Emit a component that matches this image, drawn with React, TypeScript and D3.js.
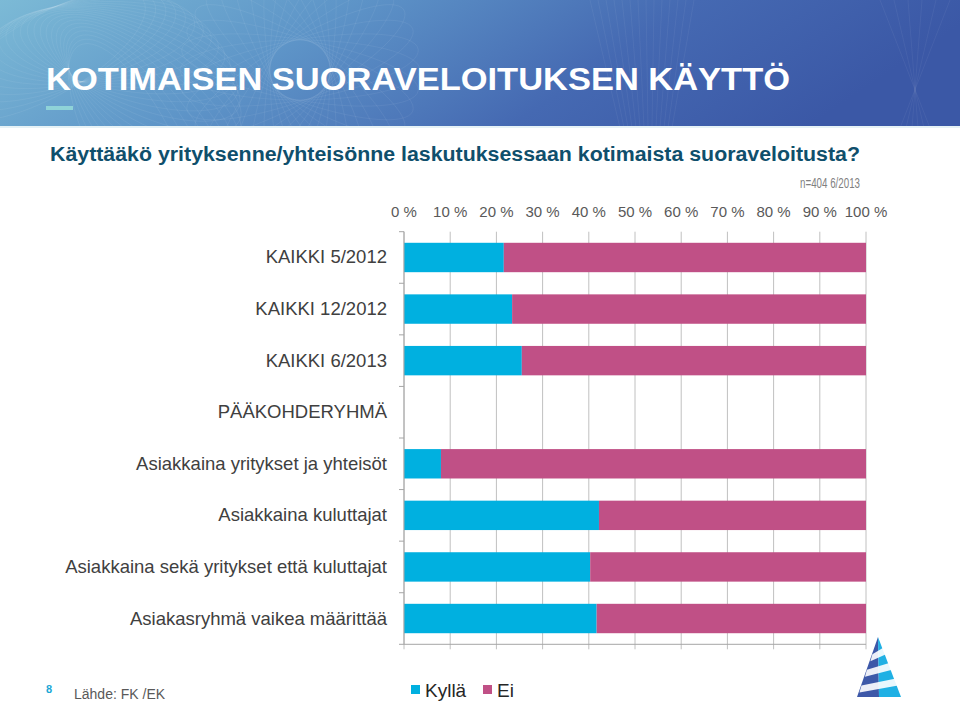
import React from "react";
import * as d3 from "d3";

const categories = [
  "KAIKKI 5/2012",
  "KAIKKI 12/2012",
  "KAIKKI 6/2013",
  "PÄÄKOHDERYHMÄ",
  "Asiakkaina yritykset ja yhteisöt",
  "Asiakkaina kuluttajat",
  "Asiakkaina sekä yritykset että kuluttajat",
  "Asiakasryhmä vaikea määrittää",
];
const kylla: (number | null)[] = [21.6, 23.4, 25.5, null, 8.0, 42.2, 40.3, 41.7];
const ei: (number | null)[] = [78.4, 76.6, 74.5, null, 92.0, 57.8, 59.7, 58.3];
const seriesNames = ["Kyllä", "Ei"];
const seriesColors = ["#00b0e0", "#c05086"];
const xTicks = [0, 10, 20, 30, 40, 50, 60, 70, 80, 90, 100];

const W = 960;
const H = 704;
const FONT = "Liberation Sans, Arial, Helvetica, sans-serif";

export default function App() {
  const x = d3.scaleLinear().domain([0, 100]).range([404, 866]);
  const y = d3
    .scaleBand<string>()
    .domain(categories)
    .range([231.7, 644.3])
    .paddingInner(0.43)
    .paddingOuter(0.215);
  const y0 = 231.7;
  const y1 = 644.3;
  const step = y.step();

  const rows = categories.map((c, i) => ({ c, a: kylla[i], b: ei[i] }));

  const apex: [number, number] = [878, 637];
  const bl: [number, number] = [857, 697];
  const br: [number, number] = [901, 697];
  const mid: [number, number] = [879, 697];

  return (
    <svg
      width={W}
      height={H}
      viewBox={`0 0 ${W} ${H}`}
      style={{ position: "absolute", left: 0, top: 0, background: "#fff" }}
      fontFamily={FONT}
    >
      <defs>
        <linearGradient id="hdr" x1="0" y1="0" x2="1" y2="0.2">
          <stop offset="0" stopColor="#7cbad6" />
          <stop offset="0.35" stopColor="#5e95c8" />
          <stop offset="0.7" stopColor="#4569b2" />
          <stop offset="1" stopColor="#3b58a6" />
        </linearGradient>
        <clipPath id="hclip">
          <rect x={0} y={0} width={W} height={128} />
        </clipPath>
      </defs>
      <rect x={0} y={0} width={W} height={128} fill="url(#hdr)" />
      <g clipPath="url(#hclip)" fill="none" stroke="#ffffff" strokeOpacity={0.07} strokeWidth={0.8}>
        {d3.range(0, 24).map((k) => (
          <ellipse key={"e" + k} cx={60 + k * 6} cy={20 + k * 3} rx={110} ry={40} transform={`rotate(${-30 + k * 4} 120 60)`} />
        ))}
        {d3.range(0, 18).map((k) => (
          <ellipse key={"f" + k} cx={300} cy={70} rx={120} ry={30} transform={`rotate(${k * 10} 300 70)`} />
        ))}
        {d3.range(0, 14).map((k) => (
          <line key={"l" + k} x1={590 + k * 8} y1={0} x2={620 + k * 4} y2={128} />
        ))}
        {d3.range(0, 6).map((k) => (
          <path key={"p" + k} d={`M${880 + k * 14},0 L${930 - k * 6},128`} />
        ))}
      </g>
      <rect x={0} y={126} width={W} height={2} fill="#e6f2f6" />
      <text
        x={46}
        y={90}
        fill="#ffffff"
        fontSize={31}
        fontWeight="bold"
        textLength={744}
        lengthAdjust="spacingAndGlyphs"
      >
        KOTIMAISEN SUORAVELOITUKSEN KÄYTTÖ
      </text>
      <rect x={46} y={106} width={27} height={4} fill="#8fd3d8" />

      <text
        x={50}
        y={161}
        fill="#0f4f6c"
        fontSize={20}
        fontWeight="bold"
        textLength={810}
        lengthAdjust="spacingAndGlyphs"
      >
        Käyttääkö yrityksenne/yhteisönne laskutuksessaan kotimaista suoraveloitusta?
      </text>
      <text
        x={800}
        y={188}
        fill="#7f7f7f"
        fontSize={14}
        textLength={60}
        lengthAdjust="spacingAndGlyphs"
      >
        n=404 6/2013
      </text>

      {xTicks.map((t) => (
        <line key={"g" + t} x1={x(t)} x2={x(t)} y1={y0} y2={y1 + 5} stroke="#c0c0c0" strokeWidth={1} />
      ))}
      {xTicks.map((t) => (
        <text key={"t" + t} x={x(t)} y={217} fill="#595959" fontSize={15} textAnchor="middle">
          {t} %
        </text>
      ))}

      {rows.map((r) => {
        const yy = y(r.c)!;
        const bw = y.bandwidth();
        return (
          <g key={r.c}>
            {r.a != null && (
              <rect x={x(0)} y={yy} width={x(r.a) - x(0)} height={bw} fill={seriesColors[0]} />
            )}
            {r.a != null && r.b != null && (
              <rect x={x(r.a)} y={yy} width={x(r.a + r.b) - x(r.a)} height={bw} fill={seriesColors[1]} />
            )}
          </g>
        );
      })}

      <line x1={x(0)} x2={x(0)} y1={y0} y2={y1} stroke="#a6a6a6" strokeWidth={1} />
      {d3.range(0, categories.length + 1).map((k) => (
        <line
          key={"lt" + k}
          x1={x(0) - 5}
          x2={x(0)}
          y1={y0 + k * step}
          y2={y0 + k * step}
          stroke="#a6a6a6"
          strokeWidth={1}
        />
      ))}
      <line x1={x(0)} x2={x(100)} y1={y1} y2={y1} stroke="#a6a6a6" strokeWidth={1} />

      {categories.map((c) => (
        <text
          key={"c" + c}
          x={387}
          y={y(c)! + y.bandwidth() / 2 + 6}
          fill="#404040"
          fontSize={18.5}
          textAnchor="end"
        >
          {c}
        </text>
      ))}

      {seriesNames.map((s, i) => {
        const lx = [411, 483][i];
        return (
          <g key={"lg" + s}>
            <rect x={lx} y={685} width={9} height={9} fill={seriesColors[i]} />
            <text x={lx + 14} y={697} fill="#262626" fontSize={19}>
              {s}
            </text>
          </g>
        );
      })}

      <text x={46} y={693} fill="#1aa7d6" fontSize={11} fontWeight="bold">
        8
      </text>
      <text x={74} y={699} fill="#595959" fontSize={14}>
        Lähde: FK /EK
      </text>

      <g>
        <polygon points={[apex, bl, mid].map((p) => p.join(",")).join(" ")} fill="#3d58a8" />
        <polygon points={[apex, mid, br].map((p) => p.join(",")).join(" ")} fill="#1fb0e4" />
        {[0.22, 0.48, 0.74].map((f, k) => {
          const yy = apex[1] + f * (bl[1] - apex[1]);
          const h = 7;
          const xl = apex[0] + (bl[0] - apex[0]) * f - 1;
          const xr = apex[0] + (br[0] - apex[0]) * f + 1;
          return (
            <polygon
              key={"s" + k}
              points={`${xl},${yy + 4} ${xr},${yy - 3} ${xr + 2},${yy - 3 + h} ${xl - 2},${yy + 4 + h}`}
              fill="#ffffff"
              fillOpacity={0.9}
            />
          );
        })}
      </g>
    </svg>
  );
}
